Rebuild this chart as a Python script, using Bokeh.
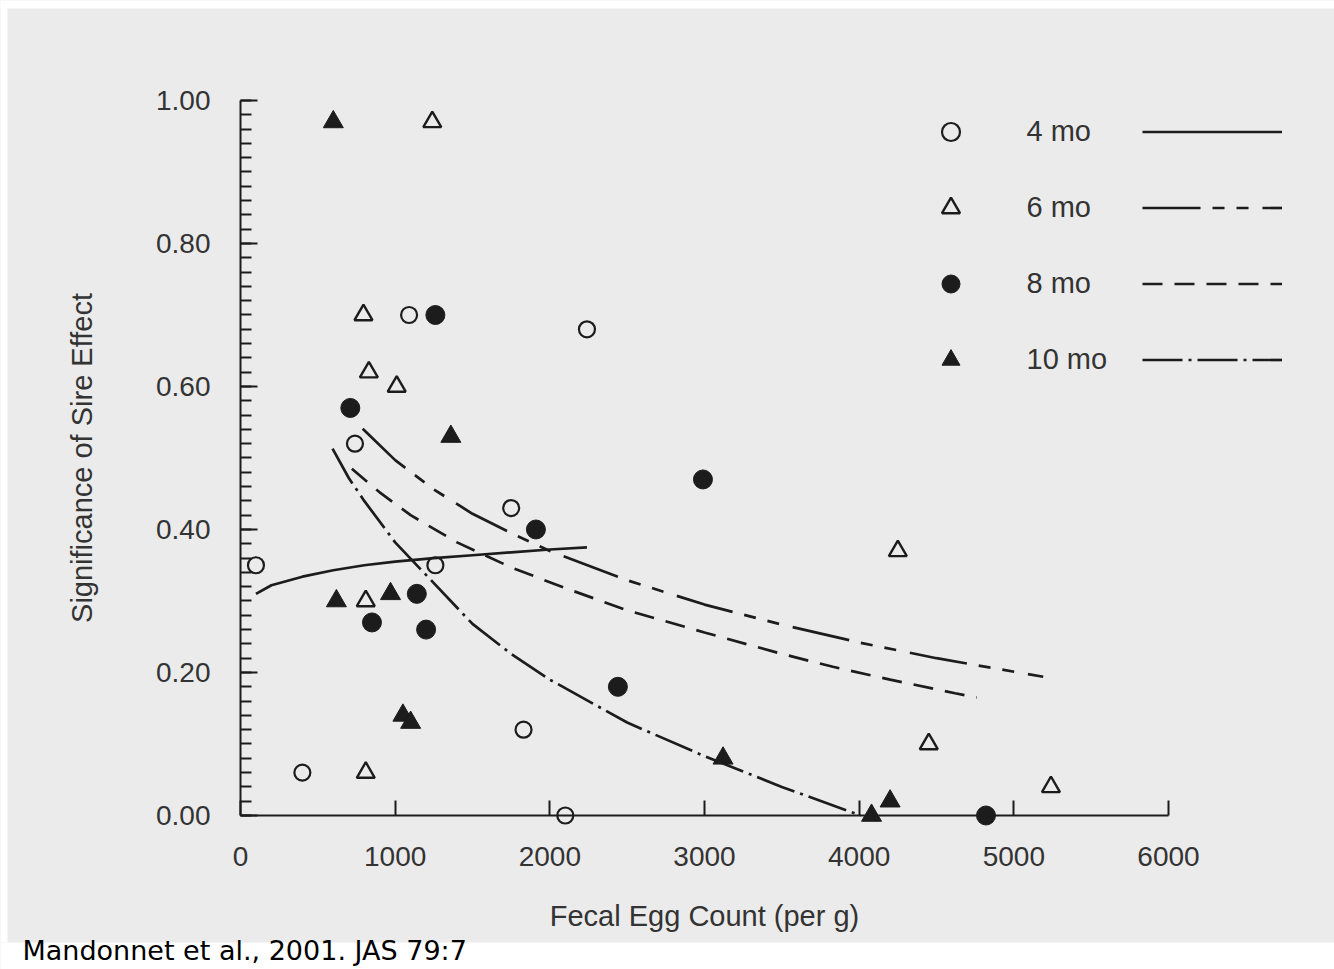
from bokeh.plotting import figure
from bokeh.models import (FixedTicker, Legend, LegendItem, Label, BoxAnnotation,
                          Range1d, PrintfTickFormatter)
from bokeh.embed import file_html
from bokeh.resources import INLINE

# ---------------- data ----------------
series_labels = ["4 mo", "6 mo", "8 mo", "10 mo"]

x_4mo = [100, 400, 740, 1090, 1260, 1750, 1830, 2100, 2240]
y_4mo = [0.35, 0.06, 0.52, 0.70, 0.35, 0.43, 0.12, 0.00, 0.68]

x_6mo = [1240, 795, 830, 1010, 810, 810, 4250, 4450, 5240]
y_6mo = [0.97, 0.70, 0.62, 0.60, 0.30, 0.06, 0.37, 0.10, 0.04]

x_8mo = [1260, 710, 1910, 1140, 850, 1200, 2440, 2990, 4820]
y_8mo = [0.70, 0.57, 0.40, 0.31, 0.27, 0.26, 0.18, 0.47, 0.00]

x_10mo = [600, 1360, 620, 970, 1050, 1100, 3120, 4080, 4200]
y_10mo = [0.97, 0.53, 0.30, 0.31, 0.14, 0.13, 0.08, 0.00, 0.02]

# fitted curves
fit_x_4mo = [100, 200, 400, 600, 800, 1000, 1250, 1500, 1750, 2000, 2240]
fit_y_4mo = [0.310, 0.322, 0.334, 0.343, 0.350, 0.355, 0.360, 0.364, 0.368, 0.372, 0.375]

fit_x_6mo = [790, 1000, 1250, 1500, 1750, 2000, 2500, 3000, 3500, 4000, 4500, 5190]
fit_y_6mo = [0.541, 0.497, 0.456, 0.422, 0.395, 0.370, 0.329, 0.295, 0.267, 0.242, 0.220, 0.194]

fit_x_8mo = [720, 900, 1100, 1400, 1750, 2100, 2500, 3000, 3500, 3830, 4200, 4620, 4760]
fit_y_8mo = [0.485, 0.452, 0.420, 0.382, 0.347, 0.318, 0.287, 0.256, 0.226, 0.208, 0.190, 0.171, 0.165]

fit_x_10mo = [595, 700, 800, 1000, 1250, 1500, 1750, 2000, 2500, 3000, 3500, 4010]
fit_y_10mo = [0.513, 0.472, 0.440, 0.382, 0.325, 0.268, 0.226, 0.190, 0.130, 0.083, 0.040, 0.000]

x_ticks = [0, 1000, 2000, 3000, 4000, 5000, 6000]
y_ticks = [0.0, 0.2, 0.4, 0.6, 0.8, 1.0]
y_minor_ticks = [0.02 * i for i in range(51)]

x_axis_title = "Fecal Egg Count (per g)"
y_axis_title = "Significance of Sire Effect"
citation = "Mandonnet et al., 2001. JAS 79:7"

# ---------------- styling ----------------
INK = "#1c1c1c"
TXT = "#333333"
BG = "#ebebeb"
FONT = "Liberation Sans"
W, H = 1334, 969

# the plotting frame covers the whole canvas; axes sit at x=0 / y=0
p = figure(width=W, height=H, output_backend="svg", toolbar_location=None,
           x_range=Range1d(-1551.72, 7073.28), y_range=Range1d(-0.215385, 1.139860),
           min_border=0, min_border_left=0, min_border_right=0,
           min_border_top=0, min_border_bottom=0)
p.background_fill_color = BG
p.border_fill_color = BG
p.outline_line_color = None
p.xgrid.visible = False
p.ygrid.visible = False

# axes
xa = p.xaxis[0]
xa.fixed_location = 0
xa.bounds = (0, 6000)
xa.ticker = FixedTicker(ticks=x_ticks)
xa.axis_line_width = 2
xa.axis_line_color = INK
xa.major_tick_line_width = 2
xa.major_tick_line_color = INK
xa.major_tick_in = 15
xa.major_tick_out = 0
xa.minor_tick_line_color = None
xa.major_label_text_font = FONT
xa.major_label_text_font_size = "28px"
xa.major_label_text_color = TXT
xa.major_label_standoff = 32
xa.axis_label = x_axis_title
xa.axis_label_text_font = FONT
xa.axis_label_text_font_size = "29px"
xa.axis_label_text_font_style = "normal"
xa.axis_label_text_color = TXT
xa.axis_label_standoff = 30

ya = p.yaxis[0]
ya.fixed_location = 0
ya.bounds = (0, 1)
ya.ticker = FixedTicker(ticks=y_ticks, minor_ticks=y_minor_ticks)
ya.formatter = PrintfTickFormatter(format="%.2f")
ya.axis_line_width = 2
ya.axis_line_color = INK
ya.major_tick_line_width = 2
ya.major_tick_line_color = INK
ya.major_tick_in = 17
ya.major_tick_out = 0
ya.minor_tick_line_width = 2
ya.minor_tick_line_color = INK
ya.minor_tick_in = 11
ya.minor_tick_out = 0
ya.major_label_text_font = FONT
ya.major_label_text_font_size = "28px"
ya.major_label_text_color = TXT
ya.major_label_standoff = 30
ya.axis_label = y_axis_title
ya.axis_label_text_font = FONT
ya.axis_label_text_font_size = "29px"
ya.axis_label_text_font_style = "normal"
ya.axis_label_text_color = TXT
ya.axis_label_standoff = 55

# fitted curves
l4 = p.line(fit_x_4mo, fit_y_4mo, line_color=INK, line_width=2.7)
l6 = p.line(fit_x_6mo, fit_y_6mo, line_color=INK, line_width=2.7,
            line_dash="58 12 12 12 12 14")
l8 = p.line(fit_x_8mo, fit_y_8mo, line_color=INK, line_width=2.7,
            line_dash="20 12")
l10 = p.line(fit_x_10mo, fit_y_10mo, line_color=INK, line_width=2.7,
             line_dash="40 6 3 6")

# points
s4 = p.scatter(x_4mo, y_4mo, marker="circle", size=16, line_color=INK,
               line_width=2.2, fill_alpha=0)
s6 = p.scatter(x_6mo, y_6mo, marker="triangle", size=18, line_color=INK,
               line_width=2.4, fill_alpha=0)
s8 = p.scatter(x_8mo, y_8mo, marker="circle", size=19, line_color=INK,
               line_width=1, fill_color=INK)
s10 = p.scatter(x_10mo, y_10mo, marker="triangle", size=20, line_color=INK,
                line_width=1, fill_color=INK)

# legends: markers + labels, then line samples
leg_marks = Legend(items=[LegendItem(label=series_labels[i], renderers=[r])
                          for i, r in enumerate([s4, s6, s8, s10])],
                   location=(927.5, 587.5), orientation="vertical",
                   glyph_width=45, glyph_height=45, spacing=31, padding=0,
                   margin=0, label_standoff=54,
                   label_text_font=FONT, label_text_font_size="29px",
                   label_text_color=TXT, border_line_color=None,
                   background_fill_alpha=0)
leg_lines = Legend(items=[LegendItem(label="", renderers=[r])
                          for r in [l4, l6, l8, l10]],
                   location=(1142, 587.5), orientation="vertical",
                   glyph_width=140, glyph_height=45, spacing=31, padding=0,
                   margin=0, label_standoff=0, label_width=0,
                   label_text_font_size="1px",
                   border_line_color=None, background_fill_alpha=0)
p.add_layout(leg_marks, "center")
p.add_layout(leg_lines, "center")

# white page strips around the scanned figure
for l, r, t, b in [(0, W, 0, 8), (0, 7, 0, 942), (0, W, 942, H)]:
    p.add_layout(BoxAnnotation(left=l, right=r, top=t, bottom=b,
                               left_units="canvas", right_units="canvas",
                               top_units="canvas", bottom_units="canvas",
                               fill_color="white", fill_alpha=1,
                               line_color=None))

p.add_layout(Label(x=22, y=4, x_units="screen", y_units="screen",
                   text=citation, text_font="DejaVu Sans",
                   text_font_size="27px", text_color="black"))

open("out.html", "w").write(file_html(p, INLINE))
